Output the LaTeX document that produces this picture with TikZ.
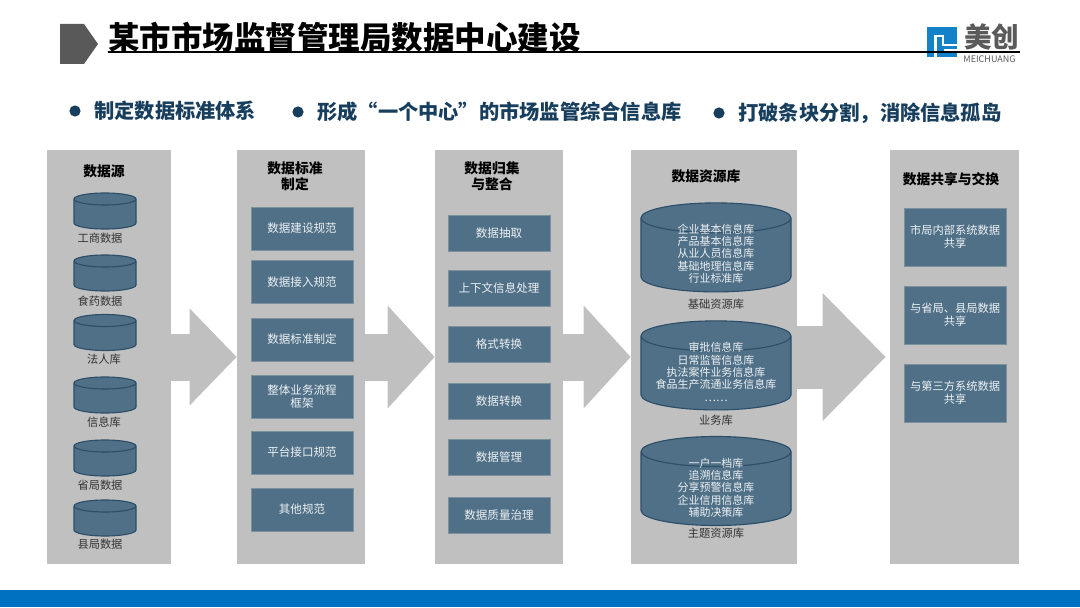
\documentclass[tikz,border=0pt]{standalone}
\usepackage{fontspec}
\setmainfont{Noto Sans CJK SC}
\usetikzlibrary{shapes.geometric, arrows.meta}
\definecolor{panelgray}{RGB}{192, 192, 192}
\definecolor{dbblue}{RGB}{80, 112, 136}
\definecolor{dbedge}{RGB}{44, 78, 104}
\definecolor{bulletblue}{RGB}{24, 62, 94}
\definecolor{logoblue}{RGB}{20, 130, 200}
\definecolor{logogray}{RGB}{90, 90, 90}
\definecolor{barblue}{RGB}{0, 112, 192}

\begin{document}
\begin{tikzpicture}[
    panel/.style={rectangle, fill=panelgray, minimum width=3.2cm, minimum height=10.35cm, inner sep=0pt},
    ptitle/.style={font=\fontsize{9.8}{11.5}\selectfont\bfseries, align=center, inner sep=0pt},
    stdbox/.style={rectangle, fill=dbblue, draw=panelgray!40!dbblue, minimum width=2.55cm, minimum height=1.075cm, font=\fontsize{8.2}{9.4}\selectfont, text=white!90!dbblue, align=center, inner sep=0pt},
    procbox/.style={stdbox, minimum height=0.9cm},
    sharebox/.style={stdbox, minimum height=1.45cm, font=\fontsize{8}{9.4}\selectfont},
    smalldb/.style={cylinder, shape border rotate=90, aspect=0.3, anchor=shape center, draw=dbedge, fill=dbblue, thick, minimum width=1.55cm, minimum height=0.9cm, inner sep=0pt},
    bigdb/.style={cylinder, shape border rotate=90, aspect=0.375, anchor=shape center, draw=dbedge, fill=dbblue, thick, minimum width=3.75cm, minimum height=2.225cm, inner sep=0pt},
    dbtext/.style={font=\fontsize{7.8}{8.8}\selectfont, text=white!90!dbblue, align=center, inner sep=0pt},
    dblabel/.style={font=\fontsize{8}{9}\selectfont, text=black!80, inner sep=0pt},
    bullettxt/.style={font=\fontsize{14.4}{16}\selectfont\bfseries, text=bulletblue, anchor=west, inner sep=0pt},
    dot/.style={circle, fill=bulletblue, minimum size=0.28cm, inner sep=0pt},
    flow/.style={-{Triangle[length=1.175cm, width=2.5cm]}, line width=1.175cm, panelgray},
]
\useasboundingbox (0,0) rectangle (27,15.175);

% 底栏
\fill[barblue] (0,0) rectangle (27,0.425);

% 标题
\fill[black!65] (1.5,14.575) -- (2.1,14.575) -- (2.45,14.075) -- (2.1,13.575) -- (1.5,13.575) -- cycle;
\node[font=\fontsize{22.4}{26}\selectfont\bfseries, anchor=west, inner sep=0pt] (title) at (2.7,14.25) {某市市场监督管理局数据中心建设};
\coordinate (rulestart) at (2.7,13.875);
\coordinate (ruleend) at (25.5,13.875);

% logo
\fill[logoblue] (23.175,14.5) rectangle (23.925,13.75);
\fill[white] (23.36,14.3) rectangle (23.42,13.75);
\fill[white] (23.36,14.3) rectangle (23.6,14.25);
\fill[white] (23.55,14.3) rectangle (23.6,14.03);
\fill[white] (23.6,14.08) rectangle (23.925,14.03);
\fill[white] (23.6,13.94) rectangle (23.925,13.89);
\node[font=\fontsize{19.6}{21}\selectfont\bfseries, text=logogray, anchor=west, inner sep=0pt] (logotxt) at (24.1,14.26) {美创};
\node[font=\fontsize{6.4}{7}\selectfont, text=logogray, anchor=west, inner sep=0pt] (logosub) at (24.08,13.7) {MEICHUANG};
\draw[line width=0.9pt] (rulestart) -- (ruleend);

% 要点
\node[dot] (b1) at (1.875,12.4) {};
\node[bullettxt] (t1) at (2.35,12.4) {制定数据标准体系};
\node[dot] (b2) at (7.45,12.375) {};
\node[bullettxt] (t2) at (7.925,12.375) {形成“一个中心”的市场监管综合信息库};
\node[dot] (b3) at (17.975,12.35) {};
\node[bullettxt] (t3) at (18.45,12.35) {打破条块分割，消除信息孤岛};

% 五个面板
\node[panel, minimum width=3.1cm] (src) at (2.725,6.25) {};
\node[panel] (std) at (7.525,6.25) {};
\node[panel] (merge) at (12.475,6.25) {};
\node[panel, minimum width=4.15cm] (res) at (17.85,6.25) {};
\node[panel, minimum width=3.225cm] (share) at (23.8625,6.25) {};

% 流
\draw[flow, -{Triangle[length=1.175cm, width=2.35cm]}] (src.east) -- (std.west);
\draw[flow] (std.east) -- (merge.west);
\draw[flow] (merge.east) -- (res.west);
\draw[flow, -{Triangle[length=1.575cm, width=3.1cm]}, line width=1.575cm, shorten >=0.1cm] (res.east) -- (share.west);

% 数据源
\node[ptitle] (srct) at (2.6,10.9) {数据源};
\node[smalldb] (db1) at (2.625,9.9) {\phantom{\rule{1cm}{0.1cm}}};
\node[dblabel] (l1) at (2.5,9.225) {工商数据};
\node[smalldb] (db2) at (2.625,8.35) {\phantom{\rule{1cm}{0.1cm}}};
\node[dblabel] (l2) at (2.5,7.65) {食药数据};
\node[smalldb] (db3) at (2.625,6.8625) {\phantom{\rule{1cm}{0.1cm}}};
\node[dblabel] (l3) at (2.6,6.2) {法人库};
\node[smalldb] (db4) at (2.625,5.3) {\phantom{\rule{1cm}{0.1cm}}};
\node[dblabel] (l4) at (2.6,4.625) {信息库};
\node[smalldb] (db5) at (2.625,3.725) {\phantom{\rule{1cm}{0.1cm}}};
\node[dblabel] (l5) at (2.5,3.05) {省局数据};
\node[smalldb] (db6) at (2.625,2.225) {\phantom{\rule{1cm}{0.1cm}}};
\node[dblabel] (l6) at (2.5,1.575) {县局数据};

% 数据标准制定
\node[ptitle] (stdt) at (7.375,10.775) {数据标准\\制定};
\node[stdbox] (s1) at (7.55,9.4625) {数据建设规范};
\node[stdbox] (s2) at (7.55,8.125) {数据接入规范};
\node[stdbox] (s3) at (7.55,6.6875) {数据标准制定};
\node[stdbox] (s4) at (7.55,5.2625) {整体业务流程\\框架};
\node[stdbox] (s5) at (7.55,3.8625) {平台接口规范};
\node[stdbox] (s6) at (7.55,2.4375) {其他规范};

% 数据归集与整合
\node[ptitle] (merget) at (12.3,10.775) {数据归集\\与整合};
\node[procbox] (m1) at (12.475,9.3375) {数据抽取};
\node[procbox] (m2) at (12.475,7.975) {上下文信息处理};
\node[procbox] (m3) at (12.475,6.5625) {格式转换};
\node[procbox] (m4) at (12.475,5.1375) {数据转换};
\node[procbox] (m5) at (12.475,3.7375) {数据管理};
\node[procbox] (m6) at (12.475,2.3) {数据质量治理};

% 数据资源库
\node[ptitle] (rest) at (17.65,10.775) {数据资源库};
\node[bigdb] (r1) at (17.9,8.99) {\phantom{\rule{2cm}{0.1cm}}};
\node[dbtext] (r1t) at (17.9,8.83) {企业基本信息库\\产品基本信息库\\从业人员信息库\\基础地理信息库\\行业标准库};
\node[dblabel] (rl1) at (17.9,7.575) {基础资源库};
\node[bigdb] (r2) at (17.9,6.04) {\phantom{\rule{2cm}{0.1cm}}};
\node[dbtext] (r2t) at (17.9,5.875) {审批信息库\\日常监管信息库\\执法案件业务信息库\\食品生产流通业务信息库\\……};
\node[dblabel] (rl2) at (17.9,4.675) {业务库};
\node[bigdb] (r3) at (17.9,3.15) {\phantom{\rule{2cm}{0.1cm}}};
\node[dbtext] (r3t) at (17.9,2.98) {一户一档库\\追溯信息库\\分享预警信息库\\企业信用信息库\\辅助决策库};
\node[dblabel] (rl3) at (17.9,1.85) {主题资源库};

% 数据共享与交换
\node[ptitle] (sharet) at (23.775,10.7) {数据共享与交换};
\node[sharebox] (h1) at (23.875,9.25) {市局内部系统数据\\共享};
\node[sharebox] (h2) at (23.875,7.3) {与省局、县局数据\\共享};
\node[sharebox] (h3) at (23.875,5.35) {与第三方系统数据\\共享};

\end{tikzpicture}
\end{document}
